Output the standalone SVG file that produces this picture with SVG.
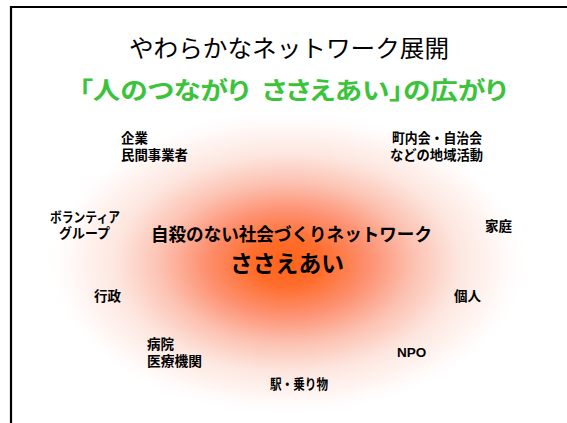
<svg xmlns="http://www.w3.org/2000/svg" width="567" height="423" viewBox="0 0 567 423">
<defs>
<radialGradient id="glow" cx="0.5" cy="0.5" r="0.5">
<stop offset="0" stop-color="#ff6418"/>
<stop offset="0.15" stop-color="#ff6d2c"/>
<stop offset="0.34" stop-color="#fd9273"/>
<stop offset="0.52" stop-color="#fcc2b2"/>
<stop offset="0.7" stop-color="#fde6df"/>
<stop offset="0.86" stop-color="#fff6f3"/>
<stop offset="1" stop-color="#ffffff" stop-opacity="0"/>
</radialGradient>
<style>
.t{font-family:"Noto Sans CJK JP","Liberation Sans",sans-serif;}
.p{font-feature-settings:"palt";white-space:pre;}
.lbl{font-family:"Liberation Sans","Noto Sans CJK JP",sans-serif;font-weight:bold;font-size:13.5px;fill:#000;}
</style>
</defs>
<rect width="567" height="423" fill="#fff"/>
<path d="M11 423 V7 H567" fill="none" stroke="#000" stroke-width="2.2"/>
<ellipse cx="287" cy="263" rx="245" ry="155" fill="url(#glow)"/>
<text class="t" x="129" y="57" font-size="24" textLength="320" lengthAdjust="spacingAndGlyphs">やわらかなネットワーク展開</text>
<text class="t p" x="79" y="99" font-size="24" font-weight="bold" fill="#3cc33c" textLength="428" lengthAdjust="spacingAndGlyphs" xml:space="preserve">「人のつながり  ささえあい」の広がり</text>
<g id="center">
<text class="t" x="151" y="241" font-size="18" font-weight="bold" textLength="281" lengthAdjust="spacingAndGlyphs">自殺のない社会づくりネットワーク</text>
<text class="t" x="230" y="272" font-size="23" font-weight="bold" textLength="114" lengthAdjust="spacingAndGlyphs">ささえあい</text>
</g>
<g id="kigyo"><text class="lbl" x="121" y="143">企業</text><text class="lbl" x="121" y="160" textLength="67" lengthAdjust="spacingAndGlyphs">民間事業者</text></g>
<g id="chonaikai"><text class="lbl" x="392" y="143" textLength="90" lengthAdjust="spacingAndGlyphs">町内会・自治会</text><text class="lbl" x="390" y="160" textLength="93" lengthAdjust="spacingAndGlyphs">などの地域活動</text></g>
<g id="volunteer"><text class="lbl" x="50" y="222" textLength="70" lengthAdjust="spacingAndGlyphs">ボランティア</text><text class="lbl" x="59" y="238" textLength="51" lengthAdjust="spacingAndGlyphs">グループ</text></g>
<g id="katei"><text class="lbl" x="485" y="231">家庭</text></g>
<g id="gyosei"><text class="lbl" x="94" y="301">行政</text></g>
<g id="kojin"><text class="lbl" x="454" y="301">個人</text></g>
<g id="byoin"><text class="lbl" x="147" y="349">病院</text><text class="lbl" x="147" y="366" textLength="55" lengthAdjust="spacingAndGlyphs">医療機関</text></g>
<g id="npo"><text class="lbl" x="397" y="357" font-size="14">NPO</text></g>
<g id="eki"><text class="lbl" x="270" y="389" textLength="58" lengthAdjust="spacingAndGlyphs">駅・乗り物</text></g>
<g id="connectors"></g>
</svg>
